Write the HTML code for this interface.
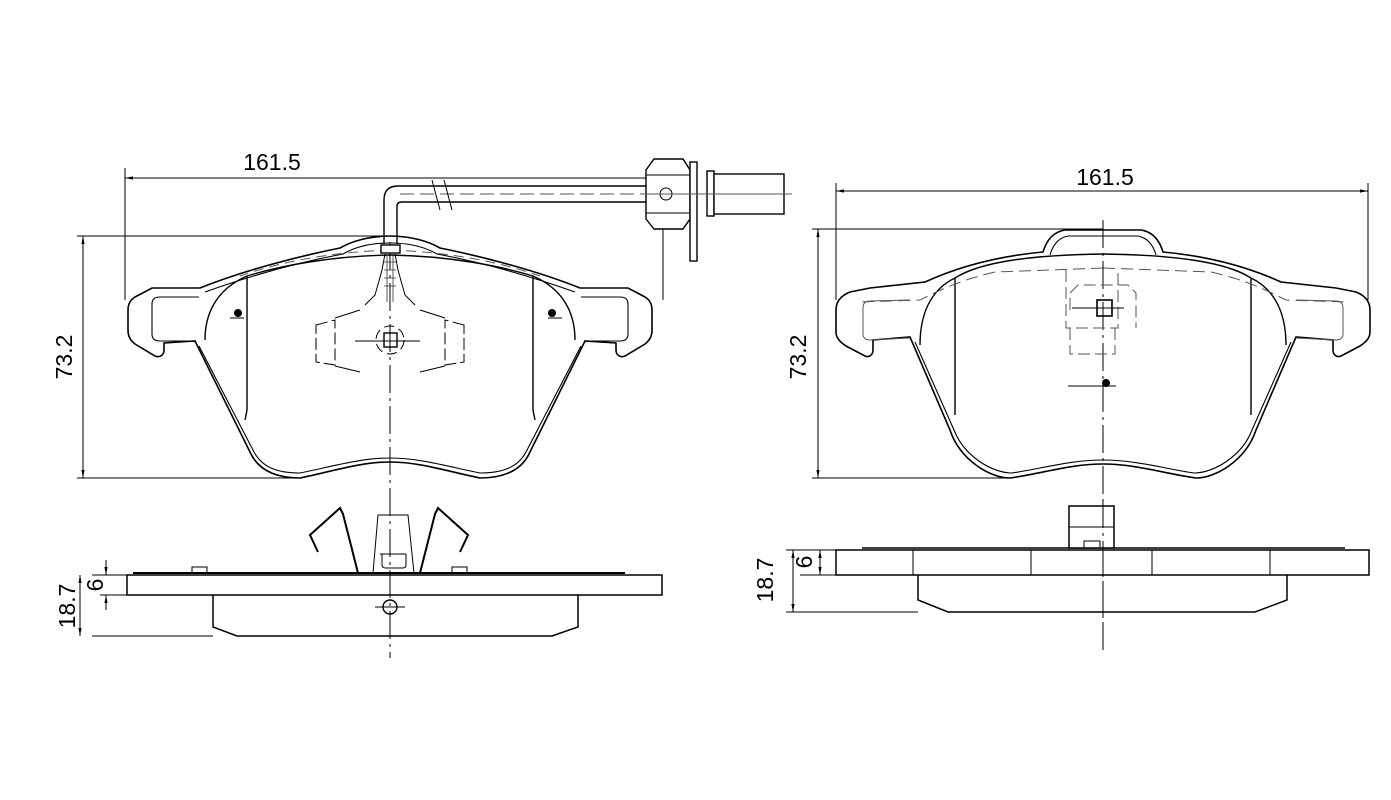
<!DOCTYPE html>
<html><head><meta charset="utf-8"><style>html,body{margin:0;padding:0;background:#fff}svg{display:block}</style></head>
<body>
<svg width="1391" height="800" viewBox="0 0 1391 800" xmlns="http://www.w3.org/2000/svg" font-family="Liberation Sans, sans-serif">
<defs>
<marker id="ar" viewBox="0 0 10 10" refX="10" refY="5" markerWidth="8" markerHeight="8" orient="auto-start-reverse"><path d="M0,3 L10,5 L0,7 z" fill="#000"/></marker>
<g id="halfL">
 <path d="M390,236 C370,236 352,241 340,248 C300,256 245,270 200,288 L152,288 L135,297 C130,300 128,305 128,310 L128,330 C128,336 130,340 135,344 L155,356 C160,358 164,355 164,350 L164,343 L195,341 L250,452 C258,470 275,478 300,478 C330,472 360,462 390,462" fill="none" stroke="#000" stroke-width="1.6"/>
 <path d="M390,243 C370,243 355,247 343,254 C300,262 250,276 205,292 M199,346 L254,452 C262,467 277,473 300,473 C330,467 360,458 390,458" fill="none" stroke="#000" stroke-width="1.1"/>
 <path d="M199,297 L160,297 C154,297 152,300 152,304 L152,334 C152,338 154,341 160,341 L195,341" fill="none" stroke="#000" stroke-width="1.1"/>
 <path d="M390,255 C330,256 280,266 247,276 C215,290 205,315 205,340 M247,276 L247,410 L245,420" fill="none" stroke="#000" stroke-width="1.4"/>
 <path d="M390,250 C330,252 280,262 240,276" fill="none" stroke="#555" stroke-width="1" stroke-dasharray="10,6"/>
</g>
<g id="halfR">
 <path d="M1103,230 L1065,230 C1052,232 1046,242 1043,252 C1000,256 960,266 925,282 L870,288 L850,292 C840,296 836,302 836,310 L836,332 C836,338 840,342 846,346 L865,356 C870,358 873,354 873,350 L873,340 L910,337 L950,430 C960,460 990,478 1010,478 C1040,474 1070,464 1103,464" fill="none" stroke="#000" stroke-width="1.6"/>
 <path d="M1103,236 L1068,236 C1058,238 1053,245 1050,255 M915,342 L954,430 C964,456 992,473 1012,473 C1040,469 1070,460 1103,460" fill="none" stroke="#000" stroke-width="1.1"/>
 <path d="M910,300 L870,301 C865,301 863,304 863,308 L863,334 C863,338 866,340 870,340 L910,338" fill="none" stroke="#555" stroke-width="1"/>
 <path d="M1103,254 C1030,255 980,262 955,278 C930,290 920,315 920,345 M955,278 L955,415" fill="none" stroke="#000" stroke-width="1.4"/>
 <path d="M1103,268 L995,272 C960,280 940,290 920,300 L860,302" fill="none" stroke="#555" stroke-width="1" stroke-dasharray="12,6"/>
</g>
</defs>

<use href="#halfL"/>
<use href="#halfL" transform="translate(780,0) scale(-1,1)"/>
<line x1="125" y1="178" x2="663" y2="178" stroke="#000" marker-start="url(#ar)"/>
<line x1="125" y1="168" x2="125" y2="300" stroke="#000"/>
<line x1="663" y1="178" x2="663" y2="300" stroke="#000"/>
<text x="272" y="170" font-size="23" text-anchor="middle">161.5</text>
<line x1="83" y1="236" x2="83" y2="478" stroke="#000" marker-start="url(#ar)" marker-end="url(#ar)"/>
<line x1="77" y1="236" x2="388" y2="236" stroke="#000"/>
<line x1="77" y1="478" x2="300" y2="478" stroke="#000"/>
<text transform="translate(72,357) rotate(-90)" font-size="23" text-anchor="middle">73.2</text>
<line x1="390" y1="242" x2="390" y2="658" stroke="#000" stroke-dasharray="28,5,3,5"/>
<path d="M384,244 L384,200 Q384,186 398,186 L648,186" fill="none" stroke="#000" stroke-width="1.4"/>
<path d="M397,244 L397,206 Q397,202 402,202 L648,202" fill="none" stroke="#000" stroke-width="1.4"/>
<line x1="400" y1="194" x2="648" y2="194" stroke="#555" stroke-dasharray="14,6"/>
<line x1="432" y1="180" x2="440" y2="210" stroke="#000"/><line x1="444" y1="180" x2="452" y2="210" stroke="#000"/>
<rect x="381" y="245" width="19" height="8" fill="#fff" stroke="#000" stroke-width="1.4"/>
<path d="M385,254 L382,270 L375,295 L365,305 M395,254 L398,270 L405,295 L415,305" fill="none" stroke="#000"/>
<path d="M387,256 L387,302 M393,256 L393,302 M384,262 h12 M384,270 h12 M384,278 h12 M384,286 h12" fill="none" stroke="#333" stroke-width="0.8"/>
<path d="M654,159 L683,159 L690,170 L690,219 L683,229 L654,229 L646,219 L646,170 Z" fill="#fff" stroke="#000" stroke-width="1.4"/>
<line x1="646" y1="175" x2="690" y2="175" stroke="#000"/><line x1="646" y1="213" x2="690" y2="213" stroke="#000"/>
<circle cx="666" cy="194" r="6" fill="#fff" stroke="#000"/>
<rect x="690" y="162" width="7" height="99" fill="#fff" stroke="#000" stroke-width="1.4"/>
<rect x="707" y="171" width="7" height="45" fill="#fff" stroke="#000" stroke-width="1.4"/>
<rect x="714" y="174" width="70" height="40" fill="#fff" stroke="#000" stroke-width="1.4"/>
<line x1="640" y1="194" x2="792" y2="194" stroke="#555"/>
<path d="M316,325 L335,320 L335,365 L316,362 Z M464,325 L445,320 L445,365 L464,362 Z" fill="none" stroke="#000" stroke-dasharray="12,4"/>
<path d="M335,318 L360,310 M420,310 L445,318 M335,366 L360,372 M420,372 L445,366" stroke="#000"/>
<rect x="384" y="333" width="13" height="14" fill="none" stroke="#000" stroke-width="1.4"/>
<line x1="355" y1="341" x2="420" y2="341" stroke="#000"/>
<circle cx="390" cy="340" r="14" fill="none" stroke="#000" stroke-dasharray="10,5"/>
<path d="M230,318 h14 M548,318 h14" stroke="#000"/>
<circle cx="238" cy="313" r="4" fill="#000"/><circle cx="552" cy="313" r="4" fill="#000"/>
<rect x="127" y="575" width="535" height="20" fill="none" stroke="#000" stroke-width="1.5"/>
<line x1="133" y1="573" x2="625" y2="573" stroke="#000" stroke-width="2"/>
<rect x="192" y="567" width="15" height="6" fill="none" stroke="#000"/>
<rect x="452" y="567" width="15" height="6" fill="none" stroke="#000"/>
<path d="M213,595 L213,627 L237,636 L552,636 L578,627 L578,595" fill="none" stroke="#000" stroke-width="1.5"/>
<circle cx="390" cy="607" r="7" fill="none" stroke="#000" stroke-width="1.4"/>
<line x1="375" y1="607" x2="405" y2="607" stroke="#000"/>
<path d="M358,573 L343,514 L340,508 L310,535 L318,552 M420,573 L435,514 L438,508 L468,535 L460,552" fill="none" stroke="#000" stroke-width="2"/>
<path d="M373,573 L378,515 L408,515 L414,573 M380,554 h26 M382,554 L382,565 Q382,568 386,568 L403,568 Q406,568 406,565 L406,554" fill="none" stroke="#000"/>
<line x1="92" y1="575" x2="127" y2="575" stroke="#000"/>
<line x1="92" y1="636" x2="213" y2="636" stroke="#000"/>
<line x1="80" y1="575" x2="80" y2="636" stroke="#000" marker-start="url(#ar)" marker-end="url(#ar)"/>
<line x1="106" y1="560" x2="106" y2="575" stroke="#000" marker-end="url(#ar)"/>
<line x1="106" y1="610" x2="106" y2="595" stroke="#000" marker-end="url(#ar)"/>
<line x1="100" y1="595" x2="127" y2="595" stroke="#000"/>
<text transform="translate(75,606) rotate(-90)" font-size="23" text-anchor="middle">18.7</text>
<text transform="translate(103,585) rotate(-90)" font-size="23" text-anchor="middle">6</text>

<use href="#halfR"/>
<use href="#halfR" transform="translate(2206,0) scale(-1,1)"/>
<line x1="836" y1="191" x2="1368" y2="191" stroke="#000" marker-start="url(#ar)" marker-end="url(#ar)"/>
<line x1="836" y1="183" x2="836" y2="300" stroke="#000"/>
<line x1="1368" y1="183" x2="1368" y2="300" stroke="#000"/>
<text x="1105" y="185" font-size="23" text-anchor="middle">161.5</text>
<line x1="818" y1="229" x2="818" y2="478" stroke="#000" marker-start="url(#ar)" marker-end="url(#ar)"/>
<line x1="812" y1="229" x2="1103" y2="229" stroke="#000"/>
<line x1="812" y1="478" x2="1010" y2="478" stroke="#000"/>
<text transform="translate(806,357) rotate(-90)" font-size="23" text-anchor="middle">73.2</text>
<line x1="1103" y1="220" x2="1103" y2="650" stroke="#000" stroke-dasharray="28,5,3,5"/>
<path d="M1066,270 L1066,328 L1118,328 L1118,270 M1070,328 L1070,354 L1115,354 L1115,328 M1070,310 L1070,293 L1078,285 L1128,285 L1136,293 L1136,328" fill="none" stroke="#555" stroke-dasharray="12,5"/>
<rect x="1097" y="300" width="15" height="16" fill="none" stroke="#000" stroke-width="1.6"/>
<line x1="1072" y1="308" x2="1124" y2="308" stroke="#000"/>
<line x1="1068" y1="386" x2="1116" y2="386" stroke="#000"/>
<circle cx="1106" cy="383" r="4" fill="#000"/>
<rect x="836" y="550" width="533" height="25" fill="none" stroke="#000" stroke-width="1.5"/>
<line x1="862" y1="548" x2="1345" y2="548" stroke="#000" stroke-width="1.5"/>
<path d="M913,550 V575 M1031,550 V575 M1152,550 V575 M1270,550 V575" stroke="#000"/>
<path d="M918,575 L918,600 L948,612 L1255,612 L1287,600 L1287,575" fill="none" stroke="#000" stroke-width="1.5"/>
<rect x="1069" y="506" width="45" height="42" fill="#fff" stroke="#000" stroke-width="1.5"/>
<line x1="1069" y1="527" x2="1114" y2="527" stroke="#000"/>
<rect x="1084" y="541" width="16" height="7" fill="none" stroke="#000"/>
<line x1="1103" y1="500" x2="1103" y2="650" stroke="#000" stroke-dasharray="28,5,3,5"/>
<line x1="786" y1="550" x2="836" y2="550" stroke="#000"/>
<line x1="786" y1="612" x2="918" y2="612" stroke="#000"/>
<line x1="800" y1="575" x2="836" y2="575" stroke="#000"/>
<line x1="793" y1="550" x2="793" y2="612" stroke="#000" marker-start="url(#ar)" marker-end="url(#ar)"/>
<line x1="820" y1="550" x2="820" y2="575" stroke="#000" marker-start="url(#ar)" marker-end="url(#ar)"/>
<text transform="translate(773,580) rotate(-90)" font-size="23" text-anchor="middle">18.7</text>
<text transform="translate(812,562) rotate(-90)" font-size="23" text-anchor="middle">6</text>
</svg>
</body></html>
